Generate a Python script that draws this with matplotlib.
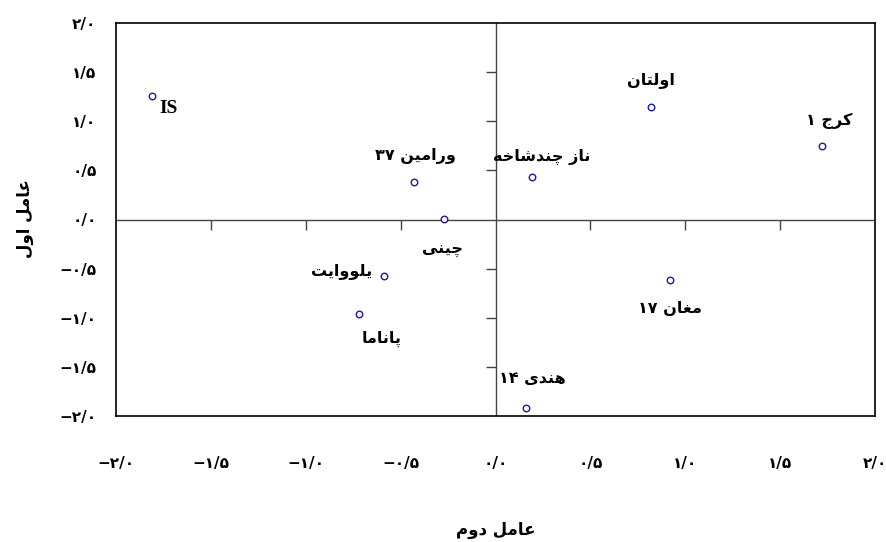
import matplotlib
matplotlib.use('Agg')
import matplotlib.pyplot as plt

# factor scores of the cultivars (second factor on x, first factor on y)
names = ['IS', 'ورامین ۳۷', 'چینی', 'ناز چندشاخه', 'اولتان', 'کرج ۱',
         'یلووایت', 'پاناما', 'مغان ۱۷', 'هندی ۱۴']
factor2 = [-1.81, -0.43, -0.27, 0.19, 0.82, 1.72, -0.59, -0.72, 0.92, 0.16]
factor1 = [1.26, 0.38, 0.01, 0.43, 1.15, 0.75, -0.58, -0.96, -0.62, -1.92]
# where each name sits relative to its point, in points
offsets = [(12, -9), (1, 19), (-1, -23), (7, 15), (0, 19), (5, 18),
           (-30, 4), (16, -18), (0, -20), (5, 21)]

ticks = [-2.0, -1.5, -1.0, -0.5, 0.0, 0.5, 1.0, 1.5, 2.0]
xlabel = 'عامل دوم'
ylabel = 'عامل اول'

# contextual forms: isolated, final, initial, medial
FORMS = {
    'ا': ('\uFE8D', '\uFE8E', None, None),
    'ت': ('\uFE95', '\uFE96', '\uFE97', '\uFE98'),
    'ج': ('\uFE9D', '\uFE9E', '\uFE9F', '\uFEA0'),
    'خ': ('\uFEA5', '\uFEA6', '\uFEA7', '\uFEA8'),
    'د': ('\uFEA9', '\uFEAA', None, None),
    'ر': ('\uFEAD', '\uFEAE', None, None),
    'ز': ('\uFEAF', '\uFEB0', None, None),
    'ش': ('\uFEB5', '\uFEB6', '\uFEB7', '\uFEB8'),
    'ع': ('\uFEC9', '\uFECA', '\uFECB', '\uFECC'),
    'غ': ('\uFECD', '\uFECE', '\uFECF', '\uFED0'),
    'ل': ('\uFEDD', '\uFEDE', '\uFEDF', '\uFEE0'),
    'م': ('\uFEE1', '\uFEE2', '\uFEE3', '\uFEE4'),
    'ن': ('\uFEE5', '\uFEE6', '\uFEE7', '\uFEE8'),
    'ه': ('\uFEE9', '\uFEEA', '\uFEEB', '\uFEEC'),
    'و': ('\uFEED', '\uFEEE', None, None),
    'ی': ('\uFBFC', '\uFBFD', '\uFBFE', '\uFBFF'),
    'چ': ('\uFB7A', '\uFB7B', '\uFB7C', '\uFB7D'),
    'پ': ('\uFB56', '\uFB57', '\uFB58', '\uFB59'),
    'ک': ('\uFB8E', '\uFB8F', '\uFB90', '\uFB91'),
}


def shape_word(word):
    out = []
    for i, ch in enumerate(word):
        if ch not in FORMS:
            out.append(ch)
            continue
        prev = word[i - 1] if i > 0 else None
        nxt = word[i + 1] if i + 1 < len(word) else None
        join_prev = prev in FORMS and FORMS[prev][2] is not None
        join_next = nxt in FORMS and FORMS[ch][2] is not None
        iso, fin, ini, med = FORMS[ch]
        if join_prev and join_next:
            out.append(med)
        elif join_prev:
            out.append(fin)
        elif join_next:
            out.append(ini)
        else:
            out.append(iso)
    return ''.join(out)


def fa(text):
    # right-to-left words in visual order, digit runs kept left-to-right
    words = text.split(' ')
    vis = []
    for w in words:
        if any(c in FORMS for c in w):
            vis.append(shape_word(w)[::-1])
        else:
            vis.append(w)
    return ' '.join(vis[::-1])


def fa_num(v):
    digits = '۰۱۲۳۴۵۶۷۸۹'
    s = f'{abs(v):.1f}'.replace('.', '/')
    s = ''.join(digits[int(c)] if c.isdigit() else c for c in s)
    return ('\u2212' if v < 0 else '') + s


plt.rcParams['font.family'] = ['DejaVu Sans']
plt.rcParams['font.weight'] = 'bold'

fig = plt.figure(figsize=(8.86, 5.42), dpi=100)
ax = fig.add_axes([116 / 886, 1 - 416 / 542, (875 - 116) / 886, (416 - 23) / 542])
ax.set_xlim(-2, 2)
ax.set_ylim(-2, 2)

# centre axes through the origin with their own tick marks
ax.axhline(0, color='#444444', lw=1.0, zorder=1)
ax.axvline(0, color='#444444', lw=1.0, zorder=1)
inner = [t for t in ticks if abs(t) < 2 and t != 0]
ax.plot(inner, [0] * len(inner), ls='none', marker=3, ms=7, mew=1.0, color='#444444')
ax.plot([0] * len(inner), inner, ls='none', marker=0, ms=7, mew=1.0, color='#444444')

ax.scatter(factor2, factor1, s=22, facecolors='white', edgecolors='#1a1aa0',
           linewidths=1.0, zorder=3)
for n, x, y, (dx, dy) in zip(names, factor2, factor1, offsets):
    if n == 'IS':
        ax.annotate(n, (x, y), xytext=(dx, dy), textcoords='offset points',
                    ha='center', va='center', fontsize=14, fontweight='bold',
                    family='Liberation Serif')
    else:
        ax.annotate(fa(n), (x, y), xytext=(dx, dy), textcoords='offset points',
                    ha='center', va='center', fontsize=11.5, fontweight='bold')

ax.set_xticks(ticks)
ax.set_yticks(ticks)
ax.set_xticklabels([fa_num(t) for t in ticks], fontsize=11, fontweight='bold')
ax.set_yticklabels([fa_num(t) for t in ticks], fontsize=11, fontweight='bold')
ax.tick_params(length=0)
ax.tick_params(axis='x', pad=29)
ax.tick_params(axis='y', pad=14)
for s in ax.spines.values():
    s.set_linewidth(1.2)
    s.set_color('black')

fig.text(496 / 886, 1 - 530 / 542, fa(xlabel), ha='center', va='center',
         fontsize=12, fontweight='bold')
fig.text(25 / 886, 1 - 219 / 542, fa(ylabel), ha='center', va='center',
         rotation=90, fontsize=12, fontweight='bold')

fig.savefig('out.png', dpi=100)
